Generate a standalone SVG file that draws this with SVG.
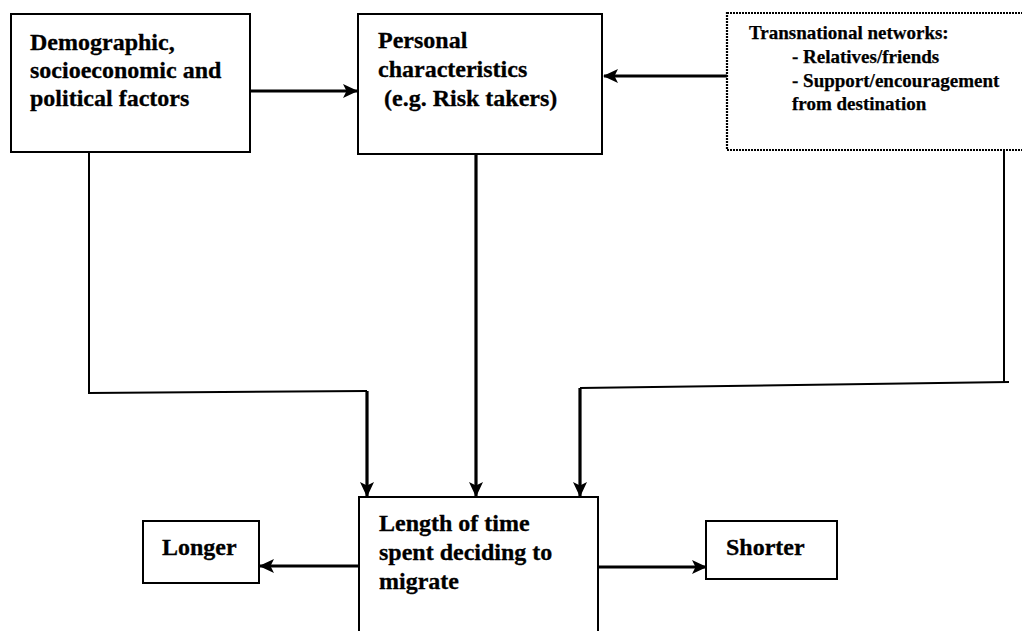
<svg xmlns="http://www.w3.org/2000/svg" width="1022" height="631" viewBox="0 0 1022 631">
<style>
.box{fill:#fff;stroke:#000;stroke-width:2}
.dot{fill:#fff;stroke:#000;stroke-width:2.2;stroke-dasharray:2 1}
.t{font-family:"Liberation Serif","Times New Roman",serif;font-weight:bold;font-size:24px;fill:#000;stroke:#000;stroke-width:0.3}
.s{font-family:"Liberation Serif","Times New Roman",serif;font-weight:bold;font-size:19px;fill:#000;stroke:#000;stroke-width:0.25}
.thin{fill:none;stroke:#000;stroke-width:2}
.thick{fill:none;stroke:#000;stroke-width:3.2}
</style>
<defs>
<marker id="ah" markerUnits="userSpaceOnUse" markerWidth="16" markerHeight="14" refX="14" refY="7" orient="auto">
<path d="M0,0 L15,7 L0,14 L3.5,7 z" fill="#000"/>
</marker>
</defs>
<rect width="1022" height="631" fill="#fff"/>
<g id="connectors">
<line class="thick" x1="250" y1="91" x2="357" y2="91" marker-end="url(#ah)"/>
<line class="thick" x1="727" y1="76" x2="604" y2="76" marker-end="url(#ah)"/>
<polyline class="thin" points="89,152 89,393 367,391"/>
<line class="thick" x1="367" y1="391" x2="367" y2="496" marker-end="url(#ah)"/>
<line class="thick" x1="476" y1="154" x2="476" y2="496" marker-end="url(#ah)"/>
<line class="thin" x1="1004" y1="150" x2="1004" y2="382"/>
<line class="thin" x1="1009" y1="382" x2="580" y2="388"/>
<line class="thick" x1="580" y1="388" x2="580" y2="496" marker-end="url(#ah)"/>
<line class="thick" x1="359" y1="566" x2="260" y2="566" marker-end="url(#ah)"/>
<line class="thick" x1="598" y1="567" x2="706" y2="567" marker-end="url(#ah)"/>
</g>
<g id="demographic">
<rect class="box" x="11" y="14" width="239" height="138"/>
<text class="t" x="30" y="50">Demographic,</text>
<text class="t" x="30" y="78">socioeconomic and</text>
<text class="t" x="30" y="106">political factors</text>
</g>
<g id="personal">
<rect class="box" x="358" y="14" width="244" height="140"/>
<text class="t" x="378" y="48">Personal</text>
<text class="t" x="378" y="77">characteristics</text>
<text class="t" x="378" y="106" xml:space="preserve"> (e.g. Risk takers)</text>
</g>
<g id="transnational">
<rect class="dot" x="727" y="13" width="300" height="137"/>
<text class="s" x="749" y="39">Transnational networks:</text>
<text class="s" x="792" y="63">- Relatives/friends</text>
<text class="s" x="792" y="87">- Support/encouragement</text>
<text class="s" x="792" y="110">from destination</text>
</g>
<g id="length">
<rect class="box" x="359" y="497" width="239" height="140"/>
<text class="t" x="379" y="531">Length of time</text>
<text class="t" x="379" y="560">spent deciding to</text>
<text class="t" x="379" y="589">migrate</text>
</g>
<g id="longer">
<rect class="box" x="143" y="521" width="116" height="62"/>
<text class="t" x="162" y="555">Longer</text>
</g>
<g id="shorter">
<rect class="box" x="706" y="521" width="131" height="58"/>
<text class="t" x="726" y="555">Shorter</text>
</g>
</svg>
